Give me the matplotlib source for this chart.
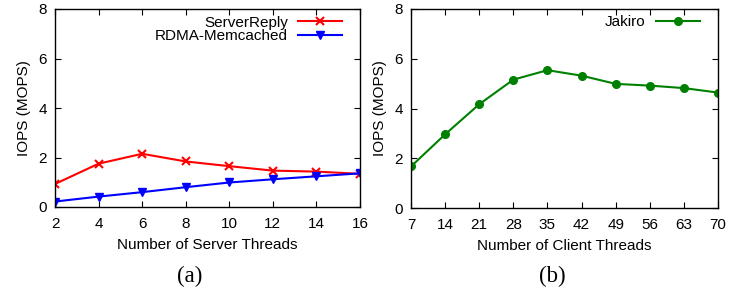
import matplotlib
matplotlib.use("Agg")
import matplotlib.pyplot as plt

server_threads = [2, 4, 6, 8, 10, 12, 14, 16]
server_reply = [0.93, 1.75, 2.15, 1.84, 1.65, 1.47, 1.43, 1.34]
rdma_memcached = [0.22, 0.42, 0.60, 0.80, 0.99, 1.12, 1.24, 1.36]

client_threads = [7, 14, 21, 28, 35, 42, 49, 56, 63, 70]
jakiro = [1.67, 2.96, 4.17, 5.16, 5.54, 5.32, 4.99, 4.92, 4.82, 4.64]

yticks = [0, 2, 4, 6, 8]

plt.rcParams['font.family'] = ['Liberation Sans', 'DejaVu Sans']
fs = 11

fig = plt.figure(figsize=(7.44, 2.94), dpi=100)
ax1 = fig.add_axes([55/744, 1 - 207/294, 305/744, 198/294])
ax2 = fig.add_axes([411/744, 1 - 208/294, 307/744, 199/294])

ax1.plot(server_threads, server_reply, color='#ff0000', marker='x', ms=6, mew=1.5, lw=1.5, label='ServerReply')
ax1.plot(server_threads, rdma_memcached, color='#0000ff', marker='v', ms=6, lw=1.5, label='RDMA-Memcached')
ax1.set_xlim(2, 16)
ax1.set_xticks(server_threads)
ax1.set_xlabel('Number of Server Threads', fontsize=fs, labelpad=5)

ax2.plot(client_threads, jakiro, color='#008000', marker='o', ms=5.5, lw=1.5, label='Jakiro')
ax2.set_xlim(7, 70)
ax2.set_xticks(client_threads)
ax2.set_xlabel('Number of Client Threads', fontsize=fs, labelpad=5)

for ax in (ax1, ax2):
    ax.set_ylim(0, 8)
    ax.set_yticks(yticks)
    ax.set_ylabel('IOPS (MOPS)', fontsize=fs, labelpad=5)
    ax.tick_params(direction='in', top=True, right=True, labelsize=fs, length=4, width=0.8)
    ax.tick_params(axis='x', pad=7)
    ax.tick_params(axis='y', pad=6)
    for s in ax.spines.values():
        s.set_linewidth(1.0)
    w = ax.get_position().width * 744
    h = ax.get_position().height * 294
    ax.legend(loc='upper right', bbox_to_anchor=(1 - 18/w, 1 - 6.5/h), markerfirst=False,
              frameon=False, fontsize=fs, handlelength=2.9, handletextpad=0.65,
              borderaxespad=0, borderpad=0, labelspacing=0.0)

fig.text(190/744, 1 - 276/294, '(a)', fontsize=16.5, family=['Liberation Serif'], ha='center', va='center')
fig.text(552/744, 1 - 276/294, '(b)', fontsize=16.5, family=['Liberation Serif'], ha='center', va='center')

fig.savefig('out.png', dpi=100)
